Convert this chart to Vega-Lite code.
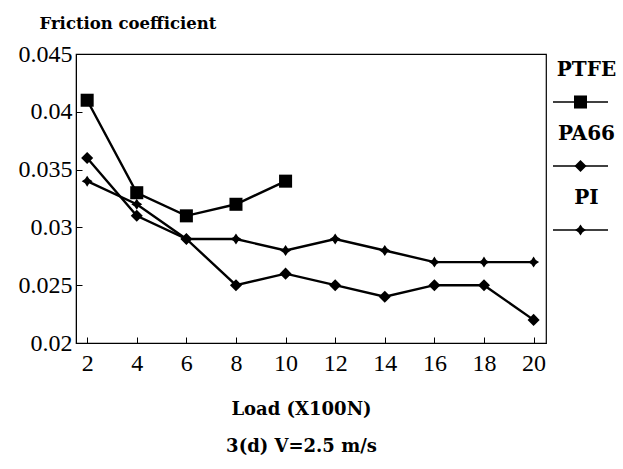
{
  "$schema": "https://vega.github.io/schema/vega-lite/v6.json",
  "background": "white",
  "padding": {"left": 17, "top": 14, "right": 5, "bottom": 5},
  "config": {
    "font": "Liberation Serif",
    "view": {"stroke": "black", "strokeWidth": 1.2},
    "concat": {"spacing": 5},
    "axis": {"labelFont": "Liberation Serif", "titleFont": "DejaVu Serif"}
  },
  "datasets": {
    "friction": [
      {"series": "PTFE", "load": 2, "mu": 0.041},
      {"series": "PTFE", "load": 4, "mu": 0.033},
      {"series": "PTFE", "load": 6, "mu": 0.031},
      {"series": "PTFE", "load": 8, "mu": 0.032},
      {"series": "PTFE", "load": 10, "mu": 0.034},
      {"series": "PA66", "load": 2, "mu": 0.036},
      {"series": "PA66", "load": 4, "mu": 0.031},
      {"series": "PA66", "load": 6, "mu": 0.029},
      {"series": "PA66", "load": 8, "mu": 0.025},
      {"series": "PA66", "load": 10, "mu": 0.026},
      {"series": "PA66", "load": 12, "mu": 0.025},
      {"series": "PA66", "load": 14, "mu": 0.024},
      {"series": "PA66", "load": 16, "mu": 0.025},
      {"series": "PA66", "load": 18, "mu": 0.025},
      {"series": "PA66", "load": 20, "mu": 0.022},
      {"series": "PI", "load": 2, "mu": 0.034},
      {"series": "PI", "load": 4, "mu": 0.032},
      {"series": "PI", "load": 6, "mu": 0.029},
      {"series": "PI", "load": 8, "mu": 0.029},
      {"series": "PI", "load": 10, "mu": 0.028},
      {"series": "PI", "load": 12, "mu": 0.029},
      {"series": "PI", "load": 14, "mu": 0.028},
      {"series": "PI", "load": 16, "mu": 0.027},
      {"series": "PI", "load": 18, "mu": 0.027},
      {"series": "PI", "load": 20, "mu": 0.027}
    ],
    "legend": [
      {"series": "PTFE"},
      {"series": "PA66"},
      {"series": "PI"}
    ]
  },
  "hconcat": [
    {
      "width": 470,
      "height": 289,
      "data": {"name": "friction"},
      "encoding": {
        "x": {
          "field": "load", "type": "quantitative",
          "scale": {"domain": [1.55, 20.5], "nice": false, "zero": false},
          "axis": {
            "values": [2, 4, 6, 8, 10, 12, 14, 16, 18, 20],
            "grid": false, "domainColor": "black", "tickColor": "black",
            "tickSize": -6, "labelPadding": 14,
            "labelFontSize": 24, "labelColor": "black",
            "title": ["Load (X100N)", "3(d) V=2.5 m/s"],
            "titleFontSize": 18, "titleFontWeight": "bold", "titleColor": "black",
            "titleLineHeight": 37, "titlePadding": 25, "titleX": 225
          }
        },
        "y": {
          "field": "mu", "type": "quantitative",
          "scale": {"domain": [0.02, 0.045], "nice": false, "zero": false},
          "axis": {
            "values": [0.02, 0.025, 0.03, 0.035, 0.04, 0.045],
            "format": ".3~f",
            "grid": false, "domainColor": "black", "tickColor": "black",
            "tickSize": -6, "labelPadding": 10,
            "labelFontSize": 24, "labelColor": "black",
            "title": "Friction coefficient",
            "titleAngle": 0, "titleAlign": "left", "titleBaseline": "alphabetic",
            "titleX": -37, "titleY": -26,
            "titleFontSize": 16.5, "titleFontWeight": "bold", "titleColor": "black"
          }
        },
        "detail": {"field": "series"}
      },
      "layer": [
        {"mark": {"type": "line", "color": "black", "strokeWidth": 2.4}},
        {
          "mark": {"type": "point", "filled": true, "color": "black", "opacity": 1},
          "encoding": {
            "shape": {
              "field": "series", "type": "nominal", "legend": null,
              "scale": {"domain": ["PTFE", "PA66", "PI"], "range": ["square", "diamond", "M0,-1L0.4,-0.4L1,0L0.4,0.4L0,1L-0.4,0.4L-1,0L-0.4,-0.4Z"]}
            },
            "size": {
              "field": "series", "type": "nominal", "legend": null,
              "scale": {"domain": ["PTFE", "PA66", "PI"], "range": [170, 120, 200]}
            }
          }
        }
      ]
    },
    {
      "width": 55,
      "height": 192,
      "view": {"stroke": null},
      "data": {"name": "legend"},
      "encoding": {
        "y": {
          "field": "series", "type": "ordinal",
          "scale": {"domain": ["PTFE", "PA66", "PI"], "type": "point", "padding": 0.5},
          "axis": null
        }
      },
      "layer": [
        {"mark": {"type": "text", "dy": -16, "dx": 6, "fontSize": 20, "fontWeight": "bold", "color": "black", "font": "DejaVu Serif"},
         "encoding": {"text": {"field": "series"}}},
        {"mark": {"type": "rule", "yOffset": 16, "color": "black", "strokeWidth": 1.5}},
        {"mark": {"type": "point", "yOffset": 16, "filled": true, "color": "black", "opacity": 1},
         "encoding": {
           "shape": {
             "field": "series", "type": "nominal", "legend": null,
             "scale": {"domain": ["PTFE", "PA66", "PI"], "range": ["square", "diamond", "M0,-1L0.4,-0.4L1,0L0.4,0.4L0,1L-0.4,0.4L-1,0L-0.4,-0.4Z"]}
           },
           "size": {
             "field": "series", "type": "nominal", "legend": null,
             "scale": {"domain": ["PTFE", "PA66", "PI"], "range": [90, 60, 110]}
           }
         }}
      ]
    }
  ]
}
